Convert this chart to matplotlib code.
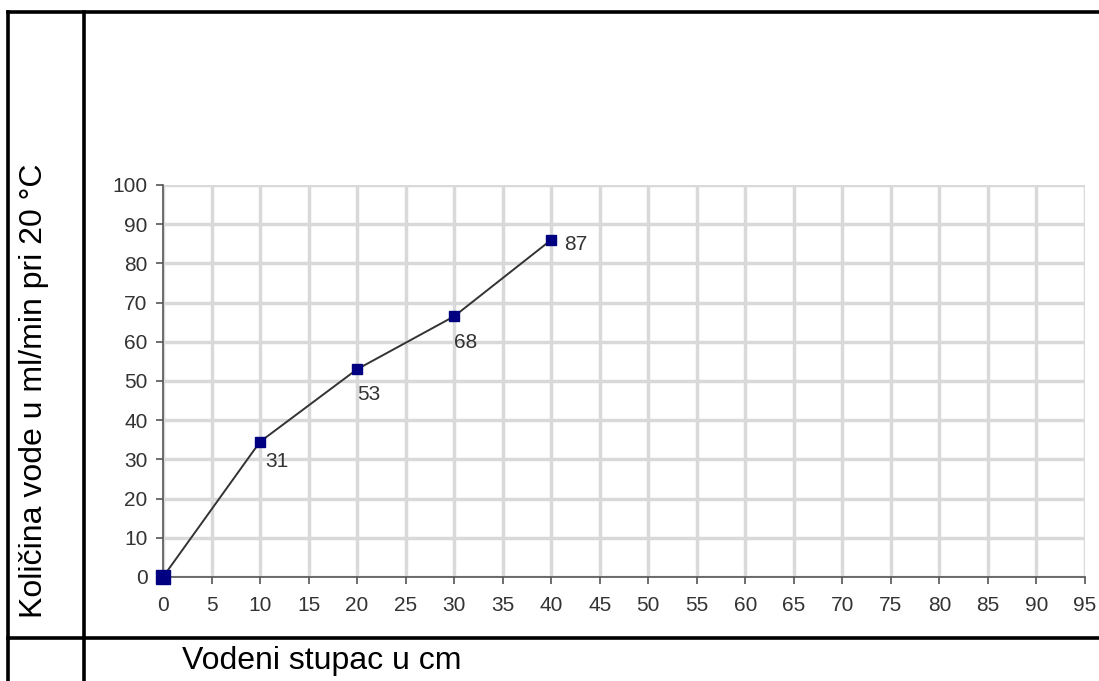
import matplotlib
matplotlib.use("Agg")
import matplotlib.pyplot as plt
from matplotlib.lines import Line2D

plt.rcParams['font.family'] = ['Liberation Sans', 'DejaVu Sans']

x_vals = [0, 10, 20, 30, 40]
y_vals = [0, 34.5, 53, 66.5, 86]
point_labels = ["", "31", "53", "68", "87"]
label_offsets = [(0, 0), (3.5, -14), (0, -18), (0, -18.5), (9, -3)]
x_ticks = list(range(0, 100, 5))
y_ticks = list(range(0, 101, 10))
x_title = "Vodeni stupac u cm"
y_title = "Količina vode u ml/min pri 20 °C"

W, H = 1099, 681
fig = plt.figure(figsize=(W / 100, H / 100), dpi=100)
ax = fig.add_axes([163 / W, 1 - 577 / H, (1085 - 163) / W, (577 - 185) / H])

ax.set_xlim(0, 95)
ax.set_ylim(0, 100)
ax.set_xticks(x_ticks)
ax.set_yticks(y_ticks)
ax.grid(True, color='#d9d9d9', linewidth=2.5, zorder=0)
ax.set_axisbelow(True)
for s in ['top', 'right']:
    ax.spines[s].set_visible(False)
for s in ['left', 'bottom']:
    ax.spines[s].set_color('#555555')
    ax.spines[s].set_linewidth(1.2)
ax.tick_params(axis='both', colors='#555555', labelcolor='#333333', labelsize=15,
               length=5, width=1.2, direction='out')
ax.tick_params(axis='x', pad=9)
ax.tick_params(axis='y', pad=6)

ax.plot(x_vals, y_vals, color='#333333', linewidth=1.4, zorder=3, clip_on=False)
ax.plot(x_vals[1:], y_vals[1:], linestyle='none', marker='s', markersize=7,
        color='#000080', zorder=4, clip_on=False)
ax.plot(x_vals[:1], y_vals[:1], linestyle='none', marker='s', markersize=9.5,
        color='#000080', zorder=4, clip_on=False)

for xv, yv, lab, off in zip(x_vals, y_vals, point_labels, label_offsets):
    if lab:
        ax.annotate(lab, (xv, yv), xytext=off, textcoords='offset points',
                    ha='left', va='center', fontsize=15, color='#333333')

# table-like frame lines
lw = 2.6
fig.add_artist(Line2D([7.5 / W, 1.0], [1 - 12 / H, 1 - 12 / H], color='black', linewidth=lw, transform=fig.transFigure))
fig.add_artist(Line2D([7.5 / W, 7.5 / W], [0, 1 - 12 / H], color='black', linewidth=lw, transform=fig.transFigure))
fig.add_artist(Line2D([83.5 / W, 83.5 / W], [0, 1 - 12 / H], color='black', linewidth=lw, transform=fig.transFigure))
fig.add_artist(Line2D([7.5 / W, 1.0], [1 - 638 / H, 1 - 638 / H], color='black', linewidth=lw, transform=fig.transFigure))

fig.text(182 / W, 1 - 661 / H, x_title, fontsize=23, ha='left', va='center', color='black')
fig.text(34 / W, 1 - 391 / H, y_title, fontsize=23, ha='center', va='center', rotation=90, color='black')

fig.savefig('out.png', dpi=100)
